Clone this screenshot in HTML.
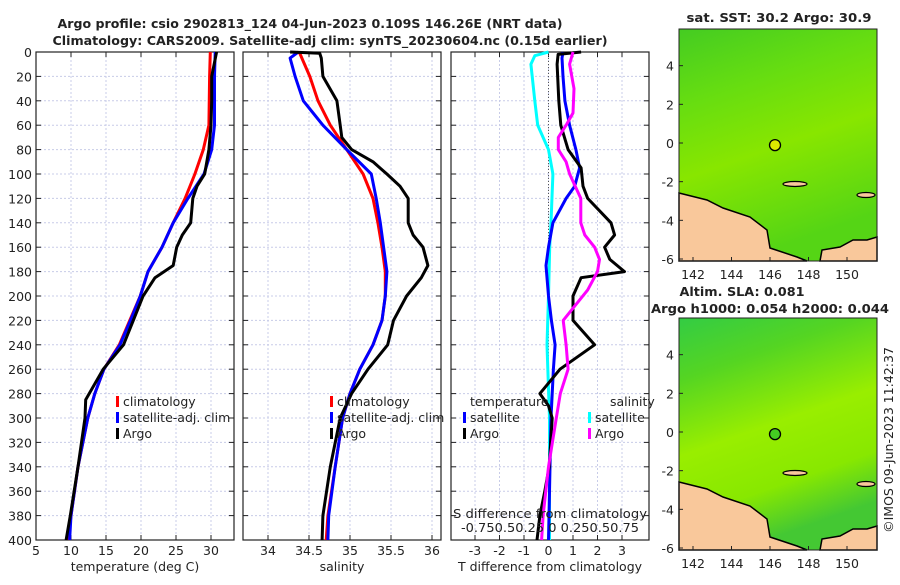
<!DOCTYPE html>
<html><head><meta charset="utf-8"><style>
body{margin:0;background:#fff;width:900px;height:580px;overflow:hidden}
svg{font-family:"DejaVu Sans","Liberation Sans",sans-serif}
</style></head><body>
<svg id="s" width="900" height="580"></svg>
<script>
// ---------- data ----------
const depthsT=[0,20,60,80,100,120,140,160,180,200,220,240,260,280,300,340,380,400];
const tempClim=[29.9,29.8,29.7,28.9,27.7,26.3,24.6,23.0,21.0,19.9,18.4,16.9,14.7,13.4,12.4,11.0,10.0,9.6];
const tempSat=[30.6,30.5,30.5,30.1,29.0,26.7,24.6,23.0,21.0,19.9,18.5,17.0,14.7,13.4,12.4,11.0,10.0,9.8];
const depthsArgo=[0,20,40,60,80,100,110,120,140,150,160,175,185,200,220,240,260,285,300,340,380,400];
const tempArgo=[30.8,30.1,30.1,30.0,29.7,29.1,28.0,27.4,27.1,25.9,25.1,24.6,22.0,20.3,18.9,17.5,14.6,12.1,12.0,11.0,9.9,9.3];
const depthsSClim=[0,20,40,60,80,100,120,140,160,180,200,220,240,260,280,300,340,380,400];
const salClim=[34.38,34.51,34.61,34.76,34.96,35.16,35.28,35.34,35.39,35.43,35.43,35.39,35.28,35.12,35.0,34.91,34.82,34.73,34.71];
const depthsSSat=[0,5,20,40,50,60,80,100,120,140,160,180,200,220,240,260,280,300,340,380,400];
const salSat=[34.37,34.27,34.33,34.43,34.55,34.67,34.96,35.26,35.32,35.37,35.41,35.45,35.43,35.39,35.28,35.12,35.0,34.91,34.82,34.74,34.73];
const depthsSArgo=[0,1,5,20,40,60,70,80,90,100,110,120,140,150,160,175,185,200,220,240,260,280,300,340,380,400];
const salArgo=[34.27,34.63,34.65,34.67,34.84,34.88,34.9,35.02,35.28,35.45,35.61,35.71,35.71,35.77,35.89,35.95,35.87,35.69,35.53,35.46,35.22,35.02,34.88,34.76,34.67,34.66];
const dDepthSatT=[0,5,20,40,60,80,95,110,120,140,160,175,200,220,240,260,300,340,400];
const dTempSat=[0.59,0.55,0.59,0.67,0.86,1.12,1.27,1.07,0.72,0.18,0,-0.1,0,0.12,0.27,0.2,0.1,0.06,0];
const dDepthArgoT=[0,2,10,40,60,80,95,110,120,140,150,160,170,180,185,200,220,240,260,280,290,300,340,360,380,400];
const dTempArgo=[1.33,0.39,0.35,0.42,0.5,0.8,1.33,1.41,1.6,2.55,2.7,2.29,2.5,3.1,1.33,1.0,1.0,1.88,0.47,-0.35,0,0.15,0.03,-0.15,-0.35,-0.47];
const dDepthSatS=[0,3,10,40,60,80,100,140,160,200,240,300,400];
const dSalSat=[0,-0.14,-0.18,-0.14,-0.11,0,0.045,0.025,0.012,0,-0.015,0.01,0.01];
const dDepthArgoS=[0,10,30,50,60,70,80,90,100,120,140,150,160,170,180,195,210,220,240,260,280,300,340,380,400];
const dSalArgo=[0.25,0.215,0.26,0.25,0.18,0.1,0.1,0.18,0.215,0.33,0.33,0.37,0.47,0.52,0.5,0.4,0.25,0.15,0.18,0.2,0.12,0.08,0,-0.055,-0.07];
const depthTicks=[0,20,40,60,80,100,120,140,160,180,200,220,240,260,280,300,320,340,360,380,400];
const tTicks=[5,10,15,20,25,30];
const sTicks=[34,34.5,35,35.5,36];
const dTicks=[-3,-2,-1,0,1,2,3];
const lonTicks=[142,144,146,148,150];
const latTicks=[4,2,0,-2,-4,-6];

// ---------- helpers ----------
const S=document.getElementById('s');const NS='http://www.w3.org/2000/svg';
function el(t,a,p){const e=document.createElementNS(NS,t);for(const k in a)e.setAttribute(k,a[k]);(p||S).appendChild(e);return e;}
function txt(x,y,s,o,p){o=o||{};const e=el('text',{x:x,y:y,'font-size':o.fs||12.5,'text-anchor':o.a||'middle','font-weight':o.b?'bold':'normal',fill:o.c||'#222'},p);if(o.tr)e.setAttribute('transform',o.tr);if(o.tl){e.setAttribute('textLength',o.tl);e.setAttribute('lengthAdjust','spacingAndGlyphs');}e.textContent=s;return e;}
const Y0=52,Y1=540;const yD=d=>Y0+d*(Y1-Y0)/400;
function lin(d0,d1,r0,r1){return v=>r0+(v-d0)*(r1-r0)/(d1-d0);}
function panel(name,x0,x1,xs,ticks,fmt,title,showY){
  const g=el('g',{});
  for(const t of ticks){const x=xs(t);el('line',{x1:x,x2:x,y1:Y0,y2:Y1,stroke:'#c8cce8','stroke-dasharray':'2,2','stroke-width':1},g);}
  for(const d of depthTicks){const y=yD(d);el('line',{x1:x0,x2:x1,y1:y,y2:y,stroke:'#c8cce8','stroke-dasharray':'2,2','stroke-width':1},g);
    el('line',{x1:x0,x2:x0+5,y1:y,y2:y,stroke:'#222'},g);el('line',{x1:x1-5,x2:x1,y1:y,y2:y,stroke:'#222'},g);
    if(showY)txt(x0-4,y+5,String(d),{a:'end'},g);}
  for(const t of ticks){const x=xs(t);el('line',{x1:x,x2:x,y1:Y1,y2:Y1-5,stroke:'#222'},g);el('line',{x1:x,x2:x,y1:Y0,y2:Y0+5,stroke:'#222'},g);txt(x,555,fmt(t),{},g);}
  el('rect',{x:x0,y:Y0,width:x1-x0,height:Y1-Y0,fill:'none',stroke:'#222','stroke-width':1.2},g);
  txt((x0+x1)/2,571,title,{},g);
  return g;
}
function series(g,name,xs,ds,vs,col,w){
  const pts=ds.map((d,i)=>xs(vs[i]).toFixed(1)+','+yD(d).toFixed(1)).join(' ');
  const p=el('polyline',{points:pts,fill:'none',stroke:col,'stroke-width':w||3,'stroke-linejoin':'round'},g);
  
}
function legend(g,x,y,col,label,name){
  const l=el('g',{},g);
  el('rect',{x:x,y:y-10,width:3,height:11,fill:col},l);txt(x+7,y,label,{a:'start'},l);
}
// titles
const t1=txt(310,28,'Argo profile: csio 2902813_124 04-Jun-2023 0.109S 146.26E (NRT data)',{b:1,fs:12.5,tl:505});

const t2=txt(330,45,'Climatology: CARS2009. Satellite-adj clim: synTS_20230604.nc (0.15d earlier)',{b:1,fs:12.5,tl:555});


// panel 1
const xT=lin(5,30,36,211);
const g1=panel('temperature-panel',36,234,xT,tTicks,String,'temperature (deg C)',true);
series(g1,'temp-climatology-line',xT,depthsT,tempClim,'#f00');
series(g1,'temp-satellite-line',xT,depthsT,tempSat,'#00f');
series(g1,'temp-argo-line',xT,depthsArgo,tempArgo,'#000');
legend(g1,116,406,'#f00','climatology','legend-climatology');
legend(g1,116,422,'#00f','satellite-adj. clim','legend-satellite');
legend(g1,116,438,'#000','Argo','legend-argo');

// panel 2
const xS=lin(34,36,268,432);
const g2=panel('salinity-panel',243,441,xS,sTicks,String,'salinity',false);
series(g2,'sal-climatology-line',xS,depthsSClim,salClim,'#f00');
series(g2,'sal-satellite-line',xS,depthsSSat,salSat,'#00f');
series(g2,'sal-argo-line',xS,depthsSArgo,salArgo,'#000');
legend(g2,330,406,'#f00','climatology','legend-climatology-2');
legend(g2,330,422,'#00f','satellite-adj. clim','legend-satellite-2');
legend(g2,330,438,'#000','Argo','legend-argo-2');

// panel 3
const xd=lin(-3,3,475,622);const xds=v=>xd(v*4);
const g3=panel('difference-panel',451,649,xd,dTicks,String,'T difference from climatology',false);
el('line',{x1:xd(0),x2:xd(0),y1:Y0,y2:Y1,stroke:'#555','stroke-dasharray':'1,2'},g3);
series(g3,'dsal-satellite-line',xds,dDepthSatS,dSalSat,'#0ff');
series(g3,'dtemp-satellite-line',xd,dDepthSatT,dTempSat,'#00f');
series(g3,'dtemp-argo-line',xd,dDepthArgoT,dTempArgo,'#000');
series(g3,'dsal-argo-line',xds,dDepthArgoS,dSalArgo,'#f0f');
txt(470,406,'temperature',{a:'start'},g3);txt(610,406,'salinity',{a:'start'},g3);
legend(g3,463,422,'#00f','satellite','legend-dtemp-satellite');
legend(g3,463,438,'#000','Argo','legend-dtemp-argo');
legend(g3,588,422,'#0ff','satellite','legend-dsal-satellite');
legend(g3,588,438,'#f0f','Argo','legend-dsal-argo');
txt(550,518,'S difference from climatology',{tl:194},g3);
txt(550,532,'-0.750.50.25 0  0.250.50.75',{tl:178},g3);

// maps
const lonX=lin(142,150,693,847);
function map(name,yTop,grad){
  const g=el('g',{});
  const latY=lin(0,-6,yTop+114,yTop+230);
  const id='g'+name;const lg=el('linearGradient',{id:id,x1:0,y1:0,x2:0.3,y2:1},g);
  grad.forEach(([o,c])=>el('stop',{offset:o,'stop-color':c},lg));
  el('rect',{x:679,y:yTop,width:198,height:232,fill:'url(#'+id+')'},g);
  const land=[[679,193],[707,200],[723,208],[750,217],[767,230],[770,248],[797,257],[807,261],[679,261]];
  const land2=[[820,261],[822,250],[840,247],[853,240],[867,240],[877,237],[877,261]];
  [land,land2].forEach(L=>el('polygon',{points:L.map(p=>p[0]+','+(p[1]-29+yTop)).join(' '),fill:'#f9c89b',stroke:'#000','stroke-width':1.5},g));
  el('ellipse',{cx:795,cy:184-29+yTop,rx:12,ry:2.5,fill:'#f9c89b',stroke:'#000','stroke-width':1.2},g);
  el('ellipse',{cx:866,cy:195-29+yTop,rx:9,ry:2.5,fill:'#f9c89b',stroke:'#000','stroke-width':1.2},g);
  el('rect',{x:679,y:yTop,width:198,height:232,fill:'none',stroke:'#222'},g);
  for(const l of lonTicks){const x=lonX(l);el('line',{x1:x,x2:x,y1:yTop+232,y2:yTop+228,stroke:'#222'},g);txt(x,yTop+250,String(l),{},g);}
  for(const l of latTicks){const y=latY(l);el('line',{x1:679,x2:683,y1:y,y2:y,stroke:'#222'},g);txt(674,y+5,String(l),{a:'end'},g);}
  return [g,latY];
}
const [m1,ly1]=map('sst-map',29,[[0,'#44cc22'],[0.3,'#66dd11'],[0.6,'#88e600'],[1,'#55d515']]);
txt(779,22,'sat. SST: 30.2 Argo: 30.9',{b:1,tl:185});
const c1=el('circle',{cx:lonX(146.26),cy:ly1(-0.109),r:5.5,fill:'#dde800',stroke:'#000','stroke-width':1.3},m1);

const [m2,ly2]=map('sla-map',318,[[0,'#33cc44'],[0.25,'#55d522'],[0.55,'#99ee00'],[0.8,'#88e800'],[1,'#44c833']]);
txt(742,296,'Altim. SLA: 0.081',{b:1,tl:125});txt(770,313,'Argo h1000: 0.054 h2000: 0.044',{b:1,tl:238});
const c2=el('circle',{cx:lonX(146.26),cy:ly2(-0.109),r:5.5,fill:'#44cc22',stroke:'#000','stroke-width':1.3},m2);

const cr=txt(893,440,'©IMOS 09-Jun-2023 11:42:37',{tr:'rotate(-90 893 440)'});

</script>
</body></html>
